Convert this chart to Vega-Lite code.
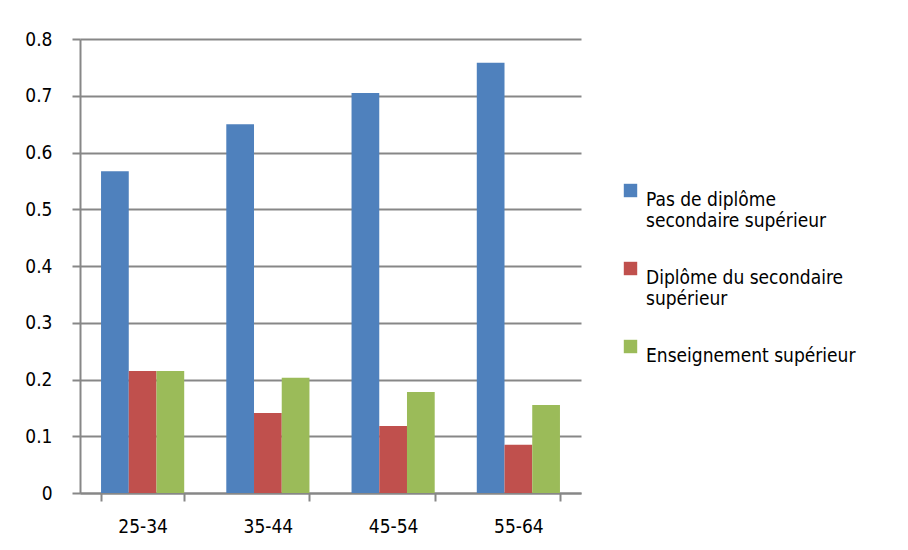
{
  "$schema": "https://vega.github.io/schema/vega-lite/v6.json",
  "width": 501,
  "height": 454,
  "autosize": {"type": "none"},
  "padding": {"left": 80, "top": 39, "right": 327, "bottom": 57},
  "background": "white",
  "data": {
    "values": [
      {"age": "25-34", "cat": "Pas de diplôme secondaire supérieur", "value": 0.567},
      {"age": "25-34", "cat": "Diplôme du secondaire supérieur", "value": 0.215},
      {"age": "25-34", "cat": "Enseignement supérieur", "value": 0.215},
      {"age": "35-44", "cat": "Pas de diplôme secondaire supérieur", "value": 0.650},
      {"age": "35-44", "cat": "Diplôme du secondaire supérieur", "value": 0.141},
      {"age": "35-44", "cat": "Enseignement supérieur", "value": 0.203},
      {"age": "45-54", "cat": "Pas de diplôme secondaire supérieur", "value": 0.705},
      {"age": "45-54", "cat": "Diplôme du secondaire supérieur", "value": 0.118},
      {"age": "45-54", "cat": "Enseignement supérieur", "value": 0.178},
      {"age": "55-64", "cat": "Pas de diplôme secondaire supérieur", "value": 0.758},
      {"age": "55-64", "cat": "Diplôme du secondaire supérieur", "value": 0.085},
      {"age": "55-64", "cat": "Enseignement supérieur", "value": 0.155}
    ]
  },
  "mark": {"type": "bar"},
  "encoding": {
    "x": {
      "field": "age",
      "type": "nominal",
      "sort": null,
      "title": null,
      "scale": {"paddingInner": 0.336, "paddingOuter": 0.168},
      "axis": {
        "labelAngle": 0,
        "tickBand": "extent",
        "tickSize": 8,
        "tickWidth": 2,
        "tickColor": "#878787",
        "domainColor": "#878787",
        "domainWidth": 2,
        "labelPadding": 16,
        "labelFont": "DejaVu Sans Condensed",
        "labelFontSize": 19,
        "labelColor": "#000000",
        "grid": false
      }
    },
    "xOffset": {
      "field": "cat",
      "type": "nominal",
      "sort": ["Pas de diplôme secondaire supérieur", "Diplôme du secondaire supérieur", "Enseignement supérieur"],
      "scale": {"paddingInner": 0, "paddingOuter": 0}
    },
    "y": {
      "field": "value",
      "type": "quantitative",
      "title": null,
      "scale": {"domain": [0, 0.8], "nice": false},
      "axis": {
        "values": [0, 0.1, 0.2, 0.3, 0.4, 0.5, 0.6, 0.7, 0.8],
        "format": ".1~f",
        "tickSize": 8,
        "tickWidth": 2,
        "tickColor": "#878787",
        "domainColor": "#878787",
        "domainWidth": 2,
        "gridColor": "#878787",
        "gridWidth": 2,
        "labelPadding": 20,
        "labelFont": "DejaVu Sans Condensed",
        "labelFontSize": 19,
        "labelColor": "#000000"
      }
    },
    "color": {
      "field": "cat",
      "type": "nominal",
      "scale": {
        "domain": ["Pas de diplôme secondaire supérieur", "Diplôme du secondaire supérieur", "Enseignement supérieur"],
        "range": ["#4F81BD", "#C0504D", "#9BBB59"]
      },
      "legend": {
        "title": null,
        "orient": "none",
        "legendX": 541,
        "legendY": 142,
        "symbolType": "square",
        "symbolSize": 180,
        "symbolStrokeWidth": 0,
        "symbolOpacity": 1,
        "labelOffset": 6,
        "labelFont": "DejaVu Sans Condensed",
        "labelFontSize": 19,
        "labelColor": "#000000",
        "labelLimit": 400,
        "labelBaseline": "top",
        "rowPadding": 28,
        "labelExpr": "datum.label == 'Pas de diplôme secondaire supérieur' ? ['Pas de diplôme', 'secondaire supérieur'] : datum.label == 'Diplôme du secondaire supérieur' ? ['Diplôme du secondaire', 'supérieur'] : datum.label"
      }
    }
  },
  "config": {"view": {"stroke": null}}
}
